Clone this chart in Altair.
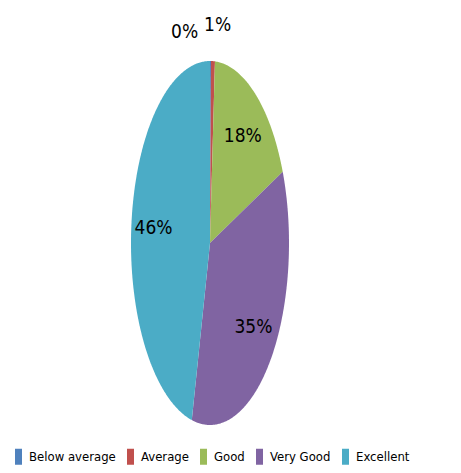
import altair as alt
import numpy as np

categories = ["Below average", "Average", "Good", "Very Good", "Excellent"]
values = [0.2, 0.8, 17.6, 35.1, 46.3]
labels = ["0%", "1%", "18%", "35%", "46%"]
colors = ["#4F81BD", "#C0504D", "#9BBB59", "#8064A2", "#4BACC6"]

FONT = "DejaVu Sans Condensed, sans-serif"

# elliptical pie geometry (plot-area pixels)
CX, CY, RX, RY = 202, 235, 79, 182

total = float(sum(values))
features = []
label_rows = []
start = 0.0
for cat, v, lab in zip(categories, values, labels):
    end = start + v / total
    n = max(3, int(np.ceil((end - start) * 600)))
    ts = np.linspace(start, end, n + 1)
    ring = [[float(CX), float(CY)]]
    ring += [[float(CX + RX * np.sin(2 * np.pi * t)), float(CY - RY * np.cos(2 * np.pi * t))] for t in ts]
    ring += [[float(CX), float(CY)]]
    features.append({
        "type": "Feature",
        "properties": {"category": cat},
        "geometry": {"type": "Polygon", "coordinates": [ring]},
    })
    mid = (start + end) / 2
    small = (v / total) < 0.02
    r = 1.2 if small else 0.72
    label_rows.append({
        "category": cat,
        "label": lab,
        "small": small,
        "lon": float(CX + RX * r * np.sin(2 * np.pi * mid)),
        "lat": float(CY - RY * r * np.cos(2 * np.pi * mid)),
    })
    start = end

proj = dict(type="identity", scale=1, translate=[0, 0])

pie = alt.Chart(alt.Data(values=features)).mark_geoshape(stroke=None, strokeWidth=0).encode(
    color=alt.Color(
        "properties.category:N",
        scale=alt.Scale(domain=categories, range=colors),
        legend=alt.Legend(
            title=None,
            orient="none",
            direction="horizontal",
            legendX=4,
            legendY=442,
            symbolType="M-0.875,-2H0.875V2H-0.875Z",
            symbolSize=64,
            symbolStrokeWidth=0,
            labelFont=FONT,
            labelFontSize=13,
            labelColor="#000000",
            labelOffset=4,
            columnPadding=8,
            padding=0,
        ),
    )
).project(**proj)

label_data = alt.Data(values=label_rows)

big_labels = alt.Chart(label_data).mark_text(
    font=FONT, fontSize=19, color="#000000", align="center", baseline="middle"
).encode(
    longitude="lon:Q", latitude="lat:Q", text="label:N"
).transform_filter("!datum.small").project(**proj)

one_label = alt.Chart(label_data).mark_text(
    font=FONT, fontSize=19, color="#000000", align="center", baseline="middle", dx=4
).encode(
    longitude="lon:Q", latitude="lat:Q", text="label:N"
).transform_filter("datum.category == 'Average'").project(**proj)

zero_label = alt.Chart(label_data).mark_text(
    font=FONT, fontSize=19, color="#000000", align="center", baseline="middle", dx=-26, dy=7
).encode(
    longitude="lon:Q", latitude="lat:Q", text="label:N"
).transform_filter("datum.category == 'Below average'").project(**proj)

chart = alt.layer(pie, big_labels, one_label, zero_label).properties(
    width=445, height=457, autosize=alt.AutoSizeParams(type="none"), padding=0
).configure_view(stroke=None).configure(background="#ffffff")

chart.save("out.html", embed_options={"renderer": "svg", "actions": False})
